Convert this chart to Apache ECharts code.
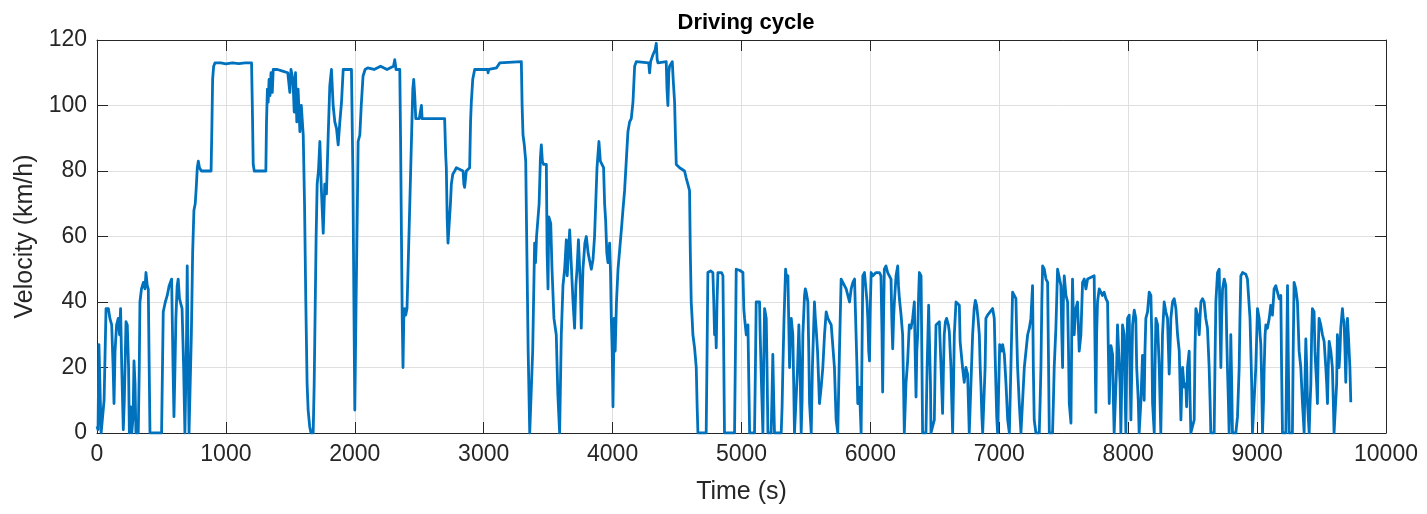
<!DOCTYPE html>
<html>
<head>
<meta charset="utf-8">
<script src="https://cdn.jsdelivr.net/npm/echarts@6/dist/echarts.min.js"></script>
<style>
html,body{margin:0;padding:0;background:#fff;}
#chart{width:1427px;height:514px;}
</style>
</head>
<body>
<div id="chart"></div>
<script>
// Tick labels
const xTicks = [0,1000,2000,3000,4000,5000,6000,7000,8000,9000,10000];
const yTicks = [0,20,40,60,80,100,120];

// Driving cycle samples [time s, velocity km/h], by phase
const urbanStart = [[0,2],[8,1],[15,27],[25,27],[32,0],[45,0],[55,10],[70,38],[88,38],[100,35],[114,33],[125,20],[132,9],[140,25],[152,33],[165,35],[175,30],[183,38],[192,20],[204,1],[212,10],[225,34],[235,33],[245,20],[251,0],[261,8],[270,0],[280,5],[287,22],[295,15],[302,0],[320,0],[328,20],[333,40],[345,44],[360,46],[372,44],[380,49],[390,45],[398,44],[405,20],[411,0],[501,0],[508,20],[514,37],[530,40],[545,42],[560,45],[579,47],[590,20],[597,5],[605,20],[612,35],[622,45],[630,47],[640,41],[648,41],[660,38],[672,20],[682,0],[690,0],[695,30],[700,51],[706,25],[714,0],[724,0],[732,30],[742,55],[752,68],[762,70],[770,75],[778,81],[786,83],[795,81],[810,80],[885,80],[892,95],[897,108],[905,112],[915,113]];

const ruralA = [[960,113],[1000,112.7],[1050,113],[1100,112.8],[1150,113],[1199,113],[1205,100],[1212,82],[1220,80],[1310,80],[1315,95],[1322,105],[1328,101],[1335,108],[1342,103],[1350,110],[1360,104],[1367,111],[1400,111],[1440,110.5],[1480,110],[1496,104],[1505,111],[1520,108],[1530,98],[1540,110],[1550,95],[1560,105],[1574,92],[1585,100],[1600,91],[1610,70],[1620,40],[1630,15],[1638,7],[1650,2],[1660,0],[1677,0],[1685,15],[1690,30],[1700,60],[1708,76],[1718,80],[1729,89],[1740,75],[1755,61],[1767,76],[1780,73],[1793,90],[1806,106],[1819,111],[1832,100],[1845,95],[1858,93],[1871,88],[1884,95],[1897,101],[1910,111],[1974,111],[1985,80],[1993,40],[2000,7]];

const motorway = [[2010,40],[2020,70],[2026,89],[2039,91],[2050,100],[2064,109],[2080,111],[2100,111.5],[2150,111],[2200,112],[2250,111],[2300,112],[2310,114],[2320,111],[2349,111],[2355,90],[2362,60],[2368,35],[2374,20],[2380,35],[2387,38],[2395,36],[2405,38],[2420,60],[2440,90],[2450,105],[2457,108],[2465,103],[2473,96],[2500,96],[2517,100],[2522,96],[2697,96],[2705,85],[2710,81],[2717,65],[2723,58],[2736,58],[2742,70],[2749,76],[2760,79],[2775,80],[2788,81],[2840,80],[2846,76],[2852,75],[2865,80],[2891,81],[2898,95],[2904,101],[2915,108],[2930,111],[3030,111],[3034,110],[3040,111],[3100,111.5],[3111,111],[3124,113],[3292,113.4]];

const ruralB = [[3298,100],[3305,91],[3315,88],[3326,83],[3335,55],[3345,25],[3357,0],[3370,0],[3380,25],[3395,58],[3402,52],[3410,60],[3421,60],[3430,70],[3440,84],[3447,88],[3455,83],[3465,82],[3486,82],[3492,55],[3499,44],[3505,66],[3512,66],[3520,64],[3530,50],[3545,35],[3563,30],[3575,12],[3589,0],[3602,30],[3615,45],[3628,50],[3641,59],[3648,48],[3654,48],[3667,62],[3680,62],[3693,40],[3705,32],[3715,45],[3724,50],[3735,59],[3744,59],[3750,45],[3757,32],[3770,50],[3785,58],[3796,60],[3810,55],[3825,52],[3835,50],[3848,53],[3860,60],[3879,81],[3894,89],[3905,83],[3912,83],[3930,81],[3938,70],[3946,65],[3955,55],[3964,52],[3977,58],[3984,49],[3990,35],[3997,25],[4003,8],[4012,35],[4020,25],[4030,40],[4042,50],[4055,56],[4068,62],[4080,68],[4093,74],[4106,83],[4119,92],[4132,95],[4145,96],[4158,101],[4171,112],[4184,113.4],[4280,113],[4287,110],[4295,113.4],[4313,115.5],[4330,117],[4339,119],[4346,114],[4352,113],[4416,113.4],[4422,105],[4429,100],[4436,110],[4442,112],[4463,113.4],[4470,108],[4481,101],[4488,90],[4494,82],[4520,81],[4558,80],[4570,78],[4584,76],[4597,74],[4603,55],[4610,40],[4617,35],[4623,30],[4636,26],[4649,20],[4656,8],[4662,0]];

const urbanC = [[4726,0],[4733,25],[4739,49],[4760,49.5],[4778,49],[4785,40],[4791,30],[4798,35],[4804,26],[4810,40],[4817,49],[4845,49],[4856,48],[4862,25],[4868,0],[4946,0],[4953,25],[4959,50],[4985,49.7],[5011,49],[5018,38],[5024,35],[5037,30],[5050,33],[5057,15],[5063,0],[5101,0],[5108,20],[5114,40],[5140,40],[5145,30],[5155,15],[5166,0],[5172,20],[5179,38],[5192,35],[5198,20],[5205,0],[5230,0],[5237,12],[5243,24],[5250,10],[5256,0],[5308,0],[5315,8],[5321,20],[5330,35],[5342,50],[5350,47],[5360,48],[5366,35],[5373,20],[5380,30],[5386,35],[5398,30],[5405,15],[5411,0],[5424,0],[5435,20],[5445,33],[5455,18],[5463,0],[5470,10],[5476,30],[5489,42],[5495,44],[5502,43],[5515,40],[5522,25],[5528,9],[5541,0],[5550,20],[5566,40],[5573,35],[5579,32],[5590,25],[5605,9],[5618,14],[5631,20],[5644,30],[5657,37],[5670,35],[5683,34],[5696,33],[5709,33],[5721,20],[5734,4],[5747,0],[5760,25],[5773,47],[5786,46],[5799,46],[5812,44],[5825,42],[5838,40],[5851,44],[5864,46],[5877,47],[5889,47],[5896,20],[5902,9],[5915,14],[5928,0],[5935,25],[5941,48],[5954,49],[5967,49],[5974,40],[5980,35],[5987,25],[5993,22],[6000,40],[6006,49],[6019,48],[6044,49],[6070,49]];

const urbanD = [[6082,48],[6090,30],[6095,12.5],[6102,35],[6108,50],[6121,51],[6134,49],[6147,48],[6160,47],[6166,35],[6173,25.7],[6180,35],[6186,40],[6199,48],[6212,51],[6218,45],[6225,41],[6238,36],[6250,30],[6257,15],[6263,0],[6270,8],[6276,15],[6289,22],[6302,33],[6315,32],[6328,35],[6341,40],[6347,25],[6354,11],[6360,25],[6367,30],[6374,42],[6380,49],[6393,48],[6399,25],[6405,0],[6431,0],[6440,20],[6452,39],[6457,30],[6462,30],[6466,15],[6470,0],[6485,0],[6496,4],[6502,20],[6509,33],[6535,34],[6548,20],[6560,6],[6567,20],[6573,30],[6582,34],[6591,35],[6605,33],[6612,31],[6625,20],[6631,10],[6638,0],[6645,15],[6651,30],[6664,40],[6690,39],[6696,28],[6703,25],[6715,20],[6728,15.5],[6741,20],[6754,18],[6760,10],[6767,0],[6780,15],[6793,30],[6805,38],[6814,40.5],[6824,39],[6835,35],[6845,30],[6852,20],[6858,14],[6865,5],[6871,0],[6883,0],[6890,20],[6896,35],[6909,36],[6948,38],[6961,35],[6967,25],[6974,14],[6980,5],[6987,0],[6995,0],[7003,27],[7015,25],[7026,27],[7039,24],[7052,15],[7065,4],[7078,0]];

const urbanE = [[7090,20],[7103,43],[7116,42],[7129,41],[7135,30],[7142,20],[7155,9],[7168,0],[7181,0],[7194,20],[7207,25],[7220,30],[7233,32],[7245,35],[7258,45],[7264,20],[7271,4],[7284,0],[7310,0],[7317,10],[7323,20],[7330,40],[7336,51],[7349,50],[7362,47],[7375,46],[7381,25],[7388,0],[7413,0],[7420,10],[7426,20],[7439,32],[7452,50],[7465,49.5],[7478,45],[7485,30],[7491,20],[7497,40],[7504,48],[7517,42],[7530,40],[7537,25],[7543,9],[7556,3],[7562,30],[7568,47],[7575,35],[7581,30],[7588,35],[7594,38],[7607,40],[7620,25],[7633,30],[7646,46],[7659,47],[7672,44],[7685,47],[7736,48],[7743,25],[7749,6.3],[7755,30],[7762,40],[7775,44],[7800,42],[7813,43],[7827,41],[7840,40],[7846,25],[7853,9],[7860,20],[7866,26.7],[7879,24],[7885,10],[7891,0],[7904,0],[7910,20],[7917,33],[7930,33],[7937,15],[7943,0],[7950,15],[7956,33],[7969,30],[7975,15],[7982,0],[7988,20],[7995,35],[8008,36],[8014,20],[8021,4],[8028,20],[8034,33],[8047,37.5],[8059,35],[8066,20],[8072,20],[8078,10],[8085,0]];

const urbanF = [[8099,10],[8111,23.7],[8124,10],[8130,25],[8137,35],[8150,37],[8163,43],[8176,42],[8183,30],[8189,9],[8202,0],[8208,20],[8215,35],[8228,33],[8241,20],[8247,10],[8253,0],[8266,30],[8279,40],[8292,37],[8305,35],[8318,18],[8324,25],[8331,35],[8344,40],[8357,41],[8370,38],[8383,30],[8396,25],[8409,4],[8416,15],[8422,20],[8434,14],[8447,15],[8453,8],[8460,20],[8473,25],[8480,10],[8486,0],[8499,0],[8512,4],[8518,25],[8525,38],[8538,36],[8551,30],[8557,35],[8564,40],[8577,41],[8589,40],[8602,35],[8615,32],[8628,20],[8635,10],[8641,0],[8667,0],[8673,20],[8680,40],[8693,49],[8706,50],[8712,35],[8719,20],[8725,35],[8732,44],[8745,47],[8757,45],[8764,30],[8770,20],[8777,10],[8783,0],[8790,10],[8796,30],[8803,15],[8809,0],[8835,0],[8848,5],[8861,20],[8867,35],[8874,48],[8887,49],[8912,48.5],[8925,47],[8938,47],[8945,35],[8951,35],[8958,15],[8964,0],[8977,0],[8990,20],[9003,38],[9016,35],[9023,30],[9029,27],[9036,15],[9042,0],[9050,10],[9055,20],[9062,30],[9068,33],[9080,32],[9094,35],[9106,39],[9119,36],[9132,44],[9145,45],[9158,45],[9171,41],[9184,42],[9190,20],[9197,0],[9223,0],[9230,25],[9236,45],[9243,20],[9249,0],[9274,0],[9280,25],[9287,46],[9300,44],[9313,40],[9326,25],[9339,20],[9352,9],[9358,5],[9365,0],[9371,15],[9378,28.7],[9385,20],[9391,9],[9404,0],[9410,8],[9417,15],[9423,30],[9429,38],[9442,37],[9449,25],[9455,20],[9462,15],[9468,9],[9474,25],[9481,35],[9494,33],[9507,30],[9520,28],[9533,20],[9540,15],[9546,9],[9552,20],[9559,28],[9572,25],[9584,20],[9591,10],[9597,0],[9610,0],[9617,15],[9623,30],[9630,25],[9636,20],[9643,25],[9649,32],[9662,38],[9668,35],[9675,34],[9682,25],[9688,15.5],[9695,28],[9701,35],[9708,30],[9714,30],[9720,20],[9727,9.4]];

const cycle = [].concat(urbanStart, ruralA, motorway, ruralB, urbanC, urbanD, urbanE, urbanF);

const FONT = '"Liberation Sans", Arial, Helvetica, sans-serif';
const AXIS_COLOR = '#262626';
const GRID_COLOR = '#dfdfdf';
const plainNumber = v => String(v);

const chart = echarts.init(document.getElementById('chart'), null, {renderer: 'canvas'});

const baseX = {
  type: 'value', min: xTicks[0], max: xTicks[xTicks.length - 1], interval: 1000
};
const baseY = {
  type: 'value', min: yTicks[0], max: yTicks[yTicks.length - 1], interval: 20
};

chart.setOption({
  animation: false,
  title: {
    text: 'Driving cycle',
    left: 741, top: 7, textAlign: 'center',
    textStyle: {fontFamily: FONT, fontWeight: 'bold', fontSize: 22, color: '#000'}
  },
  grid: {left: 97, right: 41, top: 40, bottom: 81, containLabel: false},
  xAxis: [
    Object.assign({}, baseX, {
      position: 'bottom',
      name: 'Time (s)', nameLocation: 'middle', nameGap: 47,
      nameTextStyle: {fontFamily: FONT, fontSize: 25, color: AXIS_COLOR},
      axisLine: {show: true, onZero: false, lineStyle: {color: AXIS_COLOR, width: 1}},
      axisTick: {show: true, inside: true, length: 11, lineStyle: {color: AXIS_COLOR}},
      axisLabel: {show: true, margin: 10, fontFamily: FONT, fontSize: 23, color: AXIS_COLOR, formatter: plainNumber},
      splitLine: {show: true, lineStyle: {color: GRID_COLOR, width: 1}}
    }),
    Object.assign({}, baseX, {
      position: 'top',
      axisLine: {show: true, onZero: false, lineStyle: {color: AXIS_COLOR, width: 1}},
      axisTick: {show: true, inside: true, length: 11, lineStyle: {color: AXIS_COLOR}},
      axisLabel: {show: false},
      splitLine: {show: false}
    })
  ],
  yAxis: [
    Object.assign({}, baseY, {
      position: 'left',
      name: 'Velocity (km/h)', nameLocation: 'middle', nameGap: 57,
      nameTextStyle: {fontFamily: FONT, fontSize: 25, color: AXIS_COLOR},
      axisLine: {show: true, onZero: false, lineStyle: {color: AXIS_COLOR, width: 1}},
      axisTick: {show: true, inside: true, length: 11, lineStyle: {color: AXIS_COLOR}},
      axisLabel: {show: true, margin: 10, fontFamily: FONT, fontSize: 23, color: AXIS_COLOR, formatter: plainNumber},
      splitLine: {show: true, lineStyle: {color: GRID_COLOR, width: 1}}
    }),
    Object.assign({}, baseY, {
      position: 'right',
      axisLine: {show: true, onZero: false, lineStyle: {color: AXIS_COLOR, width: 1}},
      axisTick: {show: true, inside: true, length: 11, lineStyle: {color: AXIS_COLOR}},
      axisLabel: {show: false},
      splitLine: {show: false}
    })
  ],
  series: [{
    type: 'line',
    xAxisIndex: 0, yAxisIndex: 0,
    data: cycle,
    showSymbol: false,
    symbol: 'none',
    lineStyle: {color: '#0072BD', width: 2.8, join: 'round'},
    itemStyle: {color: '#0072BD'},
    clip: true
  }]
});
</script>
</body>
</html>
